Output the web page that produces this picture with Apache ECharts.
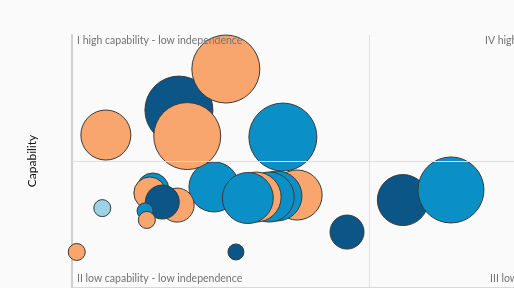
<!DOCTYPE html>
<html>
<head>
<meta charset="utf-8">
<script src="https://cdn.jsdelivr.net/npm/echarts@6/dist/echarts.min.js"></script>
<style>
  html, body { margin: 0; padding: 0; background: #fafafa; }
  #chart { width: 514px; height: 288px; }
</style>
</head>
<body>
<div id="chart"></div>
<script>
// bubbles, listed in drawing order (back to front)
const independence = [2.39, 3.79, 3.45, 3.32, 3.10, 2.96, 1.36, 1.31, 1.77, 1.52, 1.23, 1.26, 0.51, 0.08, 2.76, 4.63, 5.57, 6.38, 0.57, 3.55, 1.80, 1.94, 2.59]
const capability = [3.97, 3.65, 3.61, 3.57, 3.57, 3.53, 3.89, 3.73, 3.25, 3.37, 3.02, 2.66, 3.13, 1.39, 1.39, 2.18, 3.45, 3.85, 6.03, 5.95, 7.02, 5.99, 8.65]
const sizes = [50, 50, 50, 50, 50, 51, 32, 32, 34, 34, 16, 17, 17, 17, 16, 34, 51, 66, 50, 68, 68, 67, 68]
const groups = ['blue', 'orange', 'blue', 'blue', 'orange', 'blue', 'blue', 'orange', 'orange', 'dark', 'blue', 'orange', 'light', 'orange', 'dark', 'dark', 'dark', 'blue', 'orange', 'blue', 'dark', 'orange', 'orange']
const quadrantLabels = ['I high capability - low independence', 'IV high capability - high independence', 'II low capability - low independence', 'III low capability - high independence']

const groupColors = {
  orange: '#F9A66E',
  blue: '#0A90C6',
  dark: '#0B5687',
  light: '#9DD3E5'
}

const chart = echarts.init(document.getElementById('chart'))

const points = independence.map((x, i) => [x, capability[i], sizes[i], groups[i]])

const labelStyle = {
  fill: '#727272',
  fontSize: 10.5,
  fontFamily: 'Lato'
}

// quadrant captions sit on top of the bubbles
const caption = (text, left, top) => ({
  type: 'text',
  left: left,
  top: top,
  z: 100,
  silent: true,
  style: Object.assign({ text: text }, labelStyle)
})

chart.setOption({
  animation: false,
  backgroundColor: '#fafafa',
  grid: {
    left: 72,
    top: 35,
    width: 594,
    height: 252,
    outerBoundsMode: 'none'
  },
  xAxis: {
    type: 'value',
    min: 0,
    max: 10,
    axisLine: { show: true, lineStyle: { color: '#d8d8d8', width: 1 } },
    axisTick: { show: false },
    axisLabel: { show: false },
    splitLine: { show: false }
  },
  yAxis: {
    type: 'value',
    min: 0,
    max: 10,
    name: 'Capability',
    nameLocation: 'middle',
    nameGap: 34,
    nameTextStyle: { color: '#111', fontSize: 12, fontFamily: 'Lato' },
    axisLine: { show: true, lineStyle: { color: '#cfcfcf', width: 2 } },
    axisTick: { show: false },
    axisLabel: { show: false },
    splitLine: { show: false }
  },
  graphic: [
    caption(quadrantLabels[0], 77, 35),
    caption(quadrantLabels[1], 485, 35),
    caption(quadrantLabels[2], 77, 273),
    caption(quadrantLabels[3], 490, 273)
  ],
  series: [
    {
      type: 'scatter',
      data: points,
      symbolSize: d => d[2],
      itemStyle: {
        color: p => groupColors[p.data[3]],
        borderColor: '#3a3a3a',
        borderWidth: 1,
        opacity: 1
      },
      emphasis: { disabled: true },
      markLine: {
        silent: true,
        symbol: 'none',
        label: { show: false },
        lineStyle: { color: '#dedede', width: 1, type: 'solid' },
        data: [{ xAxis: 5 }, { yAxis: 5 }]
      },
      z: 3
    }
  ]
})
</script>
</body>
</html>
